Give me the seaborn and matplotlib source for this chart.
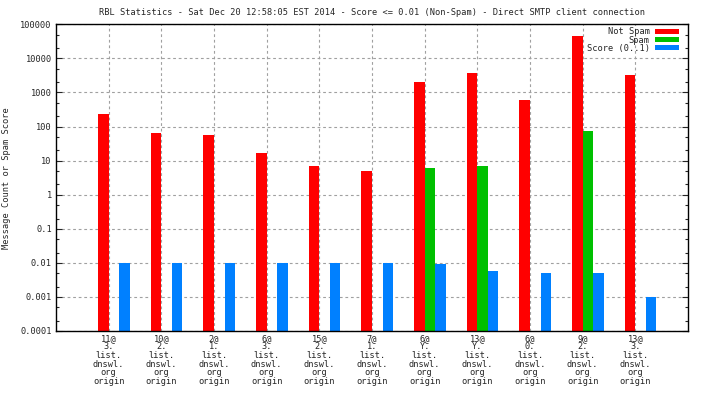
import numpy as np
import pandas as pd
import seaborn as sns
import matplotlib
matplotlib.use("Agg")
import matplotlib.pyplot as plt
from matplotlib.ticker import LogLocator, NullFormatter, FuncFormatter

# RBL hits per dnswl.org return code
hosts = ["11@", "10@", "2@", "6@", "15@", "7@", "6@", "13@", "6@", "9@", "13@"]
zones = ["3.", "2.", "1.", "3.", "2.", "1.", "Y.", "Y.", "0.", "2.", "3."]
not_spam = [230, 65, 56, 17, 7, 5, 2000, 3700, 600, 46000, 3250]
spam = [0, 0, 0, 0, 0, 0, 6.1, 7, 0, 74, 0]
score = [0.01, 0.01, 0.01, 0.01, 0.01, 0.01, 0.0095, 0.0059, 0.0051, 0.0051, 0.001]
series = ["Not Spam", "Spam", "Score (0..1)"]
colors = ["#ff0000", "#00c000", "#0080ff"]

tick_labels = [h + "\n" + z + "\nlist.\ndnswl.\norg\norigin" for h, z in zip(hosts, zones)]

df = pd.DataFrame({
    "cat": [str(i) for i in range(len(hosts))] * 3,
    "series": np.repeat(series, len(hosts)),
    "value": not_spam + spam + score,
})
df.loc[df["value"] <= 0, "value"] = np.nan

sns.set_style("white")
plt.rcParams["font.family"] = ["DejaVu Sans Mono"]
fs = 6.2

fig = plt.figure(figsize=(7.04, 3.96), dpi=100)
ax = fig.add_axes([56 / 704, 1 - 331 / 396, 632 / 704, (331 - 24.3) / 396])

sns.barplot(data=df, x="cat", y="value", hue="series", hue_order=series,
            palette=colors, width=0.6, saturation=1, linewidth=0,
            ax=ax, legend=True)

ax.set_yscale("log")
ax.set_ylim(1e-4, 1e5)
ax.set_xlim(-1.1, 10.9)

ax.set_xticks(np.arange(len(hosts)) - 0.1)
ax.set_xticklabels(tick_labels, fontsize=fs, linespacing=0.95)
ax.yaxis.set_major_locator(LogLocator(base=10, numticks=20))
ax.yaxis.set_minor_locator(LogLocator(base=10, subs=(2, 5), numticks=20))
ax.yaxis.set_minor_formatter(NullFormatter())
ax.yaxis.set_major_formatter(FuncFormatter(lambda v, p: "%g" % v))
ax.tick_params(axis="y", which="major", direction="in", length=4, width=0.8,
               labelsize=fs, left=True, right=True, pad=3)
ax.tick_params(axis="y", which="minor", direction="in", length=2.5, width=0.8,
               left=True, right=True)
ax.tick_params(axis="x", direction="in", length=0, pad=2)

ax.grid(True, which="major", color="#a0a0a0", linestyle=(0, (2.5, 2.5)), linewidth=0.8)
ax.set_axisbelow(True)
for s in ax.spines.values():
    s.set_color("black")
    s.set_linewidth(1)

ax.set_xlabel("")
ax.set_ylabel("Message Count or Spam Score", fontsize=fs, labelpad=7)
ax.set_title("RBL Statistics - Sat Dec 20 12:58:05 EST 2014 - Score <= 0.01 (Non-Spam) - Direct SMTP client connection",
             fontsize=fs, pad=7)

handles, labels = ax.get_legend_handles_labels()
ax.legend(handles, labels, loc="upper right", bbox_to_anchor=(0.9858, 0.99),
          frameon=False, fontsize=fs, markerfirst=False, handlelength=2.8,
          handleheight=0.6, handletextpad=0.6, labelspacing=-0.1,
          borderpad=0, borderaxespad=0)

fig.savefig("out.png", dpi=100)
